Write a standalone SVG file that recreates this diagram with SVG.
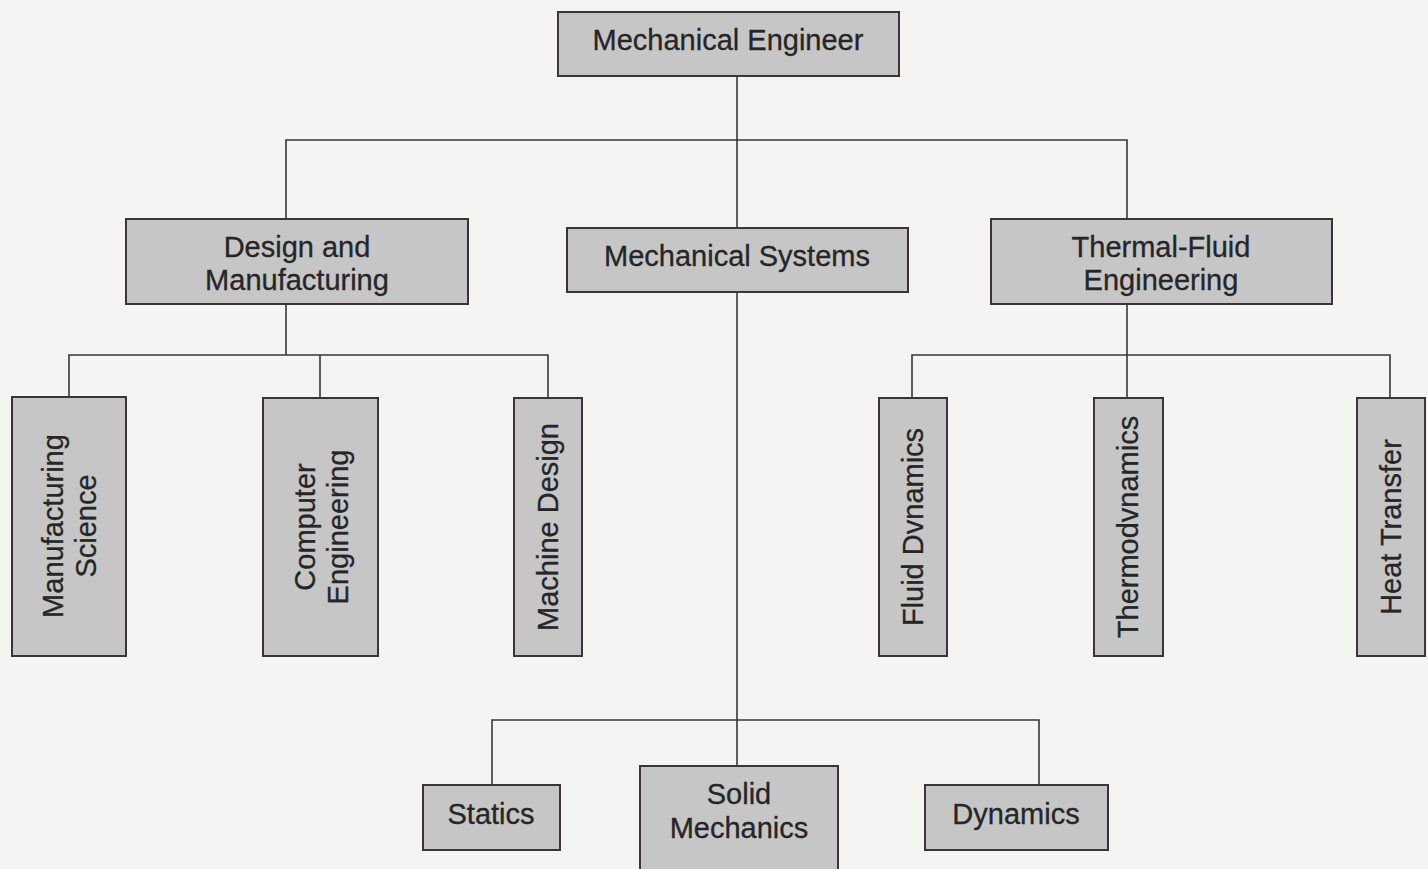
<svg xmlns="http://www.w3.org/2000/svg" width="1428" height="869" viewBox="0 0 1428 869">
<style>
.box{fill:#c6c6c6;stroke:#3b3539;stroke-width:2}
.lbl{font-family:"Liberation Sans",Arial,sans-serif;font-size:29px;fill:#262527;stroke:#262527;stroke-width:0.3;text-anchor:middle}
.con{fill:none;stroke:#3b3539;stroke-width:1.6}
</style>
<rect width="1428" height="869" fill="#f4f4f3"/>
<g id="connectors">
<path class="con" d="M737,76 V228 M286,219 V140 H1127 V219"/>
<path class="con" d="M286,304 V355 M69,397 V355 H548 V398 M320,355 V398"/>
<path class="con" d="M1127,304 V398 M912,398 V355 H1390 V398"/>
<path class="con" d="M737,292 V766 M492,785 V720 H1039 V785"/>
</g>
<g id="n-mech-eng"><rect class="box" x="558" y="12" width="341" height="64"/><text class="lbl" x="728" y="50">Mechanical Engineer</text></g>
<g id="n-design"><rect class="box" x="126" y="219" width="342" height="85"/><text class="lbl" x="297" y="257">Design and</text><text class="lbl" x="297" y="290">Manufacturing</text></g>
<g id="n-mech-sys"><rect class="box" x="567" y="228" width="341" height="64"/><text class="lbl" x="737" y="266">Mechanical Systems</text></g>
<g id="n-thermal"><rect class="box" x="991" y="219" width="341" height="85"/><text class="lbl" x="1161" y="257">Thermal-Fluid</text><text class="lbl" x="1161" y="290">Engineering</text></g>
<g id="n-manuf-sci"><rect class="box" x="12" y="397" width="114" height="259"/><text class="lbl" transform="translate(69,526) rotate(-90)"><tspan x="0" y="-6">Manufacturing</tspan><tspan x="0" y="27">Science</tspan></text></g>
<g id="n-comp-eng"><rect class="box" x="263" y="398" width="115" height="258"/><text class="lbl" transform="translate(321,527) rotate(-90)"><tspan x="0" y="-6">Computer</tspan><tspan x="0" y="27">Engineering</tspan></text></g>
<g id="n-machine"><rect class="box" x="514" y="398" width="68" height="258"/><text class="lbl" transform="translate(548,527) rotate(-90)" y="10">Machine Design</text></g>
<g id="n-fluid"><rect class="box" x="879" y="398" width="68" height="258"/><text class="lbl" transform="translate(913,527) rotate(-90)" y="10">Fluid Dvnamics</text></g>
<g id="n-thermo"><rect class="box" x="1094" y="398" width="69" height="258"/><text class="lbl" transform="translate(1128,527) rotate(-90)" y="10">Thermodvnamics</text></g>
<g id="n-heat"><rect class="box" x="1357" y="398" width="68" height="258"/><text class="lbl" transform="translate(1391,527) rotate(-90)" y="10">Heat Transfer</text></g>
<g id="n-statics"><rect class="box" x="423" y="785" width="137" height="65"/><text class="lbl" x="491" y="824">Statics</text></g>
<g id="n-solid"><rect class="box" x="640" y="766" width="198" height="110"/><text class="lbl" x="739" y="804">Solid</text><text class="lbl" x="739" y="838">Mechanics</text></g>
<g id="n-dynamics"><rect class="box" x="925" y="785" width="183" height="65"/><text class="lbl" x="1016" y="824">Dynamics</text></g>
</svg>
